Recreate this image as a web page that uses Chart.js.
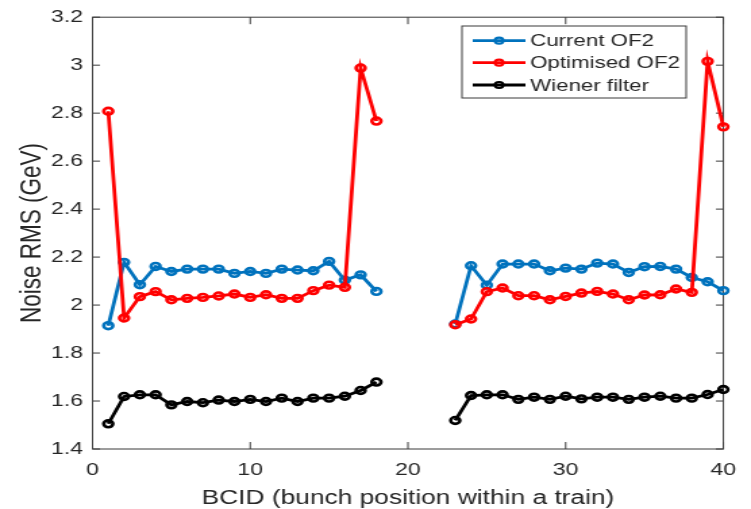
<!DOCTYPE html>
<html>
<head>
<meta charset="utf-8">
<script src="https://cdn.jsdelivr.net/npm/chart.js@4.4.1/dist/chart.umd.min.js"></script>
<style>
  html, body { margin: 0; padding: 0; background: #fff; overflow: hidden; }
  #wrap { width: 556px; height: 509px; transform: scaleX(1.3507); transform-origin: 0 0; }
</style>
</head>
<body>
<div id="wrap"><canvas id="noise-chart" width="556" height="509"></canvas></div>
<script>
// Bunch crossing positions (two trains, gap between 18 and 23)
const bcid = [1, 2, 3, 4, 5, 6, 7, 8, 9, 10, 11, 12, 13, 14, 15, 16, 17, 18,
              23, 24, 25, 26, 27, 28, 29, 30, 31, 32, 33, 34, 35, 36, 37, 38, 39, 40];

const currentOF2 = [1.914, 2.178, 2.085, 2.161, 2.140, 2.150, 2.150, 2.150, 2.132, 2.140, 2.132, 2.150, 2.146, 2.143, 2.182, 2.104, 2.126, 2.057,
                    1.921, 2.164, 2.083, 2.171, 2.171, 2.171, 2.143, 2.154, 2.150, 2.175, 2.171, 2.136, 2.160, 2.161, 2.150, 2.115, 2.097, 2.060];

const optimisedOF2 = [2.808, 1.946, 2.035, 2.056, 2.022, 2.028, 2.032, 2.038, 2.046, 2.032, 2.043, 2.028, 2.028, 2.060, 2.083, 2.074, 2.988, 2.767,
                      1.918, 1.942, 2.056, 2.071, 2.039, 2.039, 2.022, 2.036, 2.050, 2.057, 2.046, 2.022, 2.042, 2.043, 2.067, 2.053, 3.016, 2.743];

const wienerFilter = [1.505, 1.619, 1.626, 1.626, 1.584, 1.598, 1.593, 1.604, 1.598, 1.607, 1.598, 1.612, 1.598, 1.612, 1.612, 1.620, 1.644, 1.679,
                      1.519, 1.623, 1.626, 1.626, 1.607, 1.616, 1.607, 1.620, 1.609, 1.616, 1.616, 1.607, 1.616, 1.620, 1.612, 1.612, 1.627, 1.648];

const seriesNames = ['Current OF2', 'Optimised OF2', 'Wiener filter'];
const seriesColors = ['#0072BD', '#FF0000', '#000000'];

const xTicks = [0, 10, 20, 30, 40];
const yTicks = [1.4, 1.6, 1.8, 2.0, 2.2, 2.4, 2.6, 2.8, 3.0, 3.2];

const TEXT = '#262626';
const AXIS = '#3a3a3a';
const FONT = '"Liberation Sans", Arial, Helvetica, sans-serif';

// break the line wherever the bunch train has a gap
function toPoints(values) {
    const pts = [];
    bcid.forEach((x, i) => {
        if (i > 0 && x - bcid[i - 1] > 1) {
            pts.push({ x: (x + bcid[i - 1]) / 2, y: null });
        }
        pts.push({ x: x, y: values[i] });
    });
    return pts;
}

function makeDataset(idx, values, order) {
    return {
        label: seriesNames[idx],
        data: toPoints(values),
        borderColor: seriesColors[idx],
        backgroundColor: 'rgba(0,0,0,0)',
        pointBorderColor: seriesColors[idx],
        pointBackgroundColor: 'rgba(0,0,0,0)',
        borderWidth: 2.8,
        pointRadius: 3.4,
        pointBorderWidth: 2.6,
        tension: 0,
        spanGaps: false,
        clip: false,
        order: order
    };
}

// axes box, inward ticks, axis titles and legend
const matlabAxes = {
    id: 'matlabAxes',
    beforeDatasetsDraw(chart) {
        const { ctx, chartArea: a, scales } = chart;
        ctx.save();
        ctx.strokeStyle = AXIS;
        ctx.lineWidth = 1;
        ctx.strokeRect(a.left, a.top, a.right - a.left, a.bottom - a.top);
        ctx.beginPath();
        xTicks.forEach(v => {
            const px = scales.x.getPixelForValue(v);
            ctx.moveTo(px, a.bottom); ctx.lineTo(px, a.bottom - 7);
            ctx.moveTo(px, a.top); ctx.lineTo(px, a.top + 7);
        });
        yTicks.forEach(v => {
            const py = scales.y.getPixelForValue(v);
            ctx.moveTo(a.left, py); ctx.lineTo(a.left + 5.5, py);
            ctx.moveTo(a.right, py); ctx.lineTo(a.right - 5.5, py);
        });
        ctx.stroke();

        // axis titles
        ctx.fillStyle = TEXT;
        ctx.font = '19.5px ' + FONT;
        ctx.textAlign = 'center';
        ctx.textBaseline = 'middle';
        ctx.fillText('BCID (bunch position within a train)', (a.left + a.right) / 2, 499);
        ctx.font = '22.5px ' + FONT;
        ctx.translate(24, (a.top + a.bottom) / 2);
        ctx.rotate(-Math.PI / 2);
        ctx.fillText('Noise RMS (GeV)', 0, 0);
        ctx.restore();
    },
    afterDraw(chart) {
        const ctx = chart.ctx;
        const box = { x: 342, y: 26, w: 166, h: 72 };
        const rows = [40.7, 62.7, 85];
        ctx.save();
        ctx.fillStyle = '#fff';
        ctx.fillRect(box.x, box.y, box.w, box.h);
        ctx.strokeStyle = AXIS;
        ctx.lineWidth = 1;
        ctx.strokeRect(box.x, box.y, box.w, box.h);
        ctx.font = '16.5px ' + FONT;
        ctx.textAlign = 'left';
        ctx.textBaseline = 'middle';
        seriesNames.forEach((name, i) => {
            const y = rows[i];
            ctx.strokeStyle = seriesColors[i];
            ctx.lineWidth = 2.8;
            ctx.beginPath();
            ctx.moveTo(350, y); ctx.lineTo(389, y);
            ctx.stroke();
            ctx.lineWidth = 2.2;
            ctx.beginPath();
            ctx.arc(369.5, y, 3, 0, Math.PI * 2);
            ctx.stroke();
            ctx.fillStyle = TEXT;
            ctx.fillText(name, 392.5, y + 1);
        });
        ctx.restore();
    }
};

const ctx = document.getElementById('noise-chart');
new Chart(ctx, {
    type: 'line',
    data: {
        datasets: [
            makeDataset(0, currentOF2, 3),
            makeDataset(1, optimisedOF2, 2),
            makeDataset(2, wienerFilter, 1)
        ]
    },
    options: {
        responsive: false,
        maintainAspectRatio: false,
        devicePixelRatio: 1,
        animation: false,
        layout: { padding: { top: 16.5, right: 15, left: 0, bottom: 0 } },
        plugins: {
            legend: { display: false },
            tooltip: { enabled: false },
            title: { display: false }
        },
        scales: {
            x: {
                type: 'linear',
                min: 0,
                max: 40,
                afterFit: (scale) => { scale.height = 60; },
                afterBuildTicks: (scale) => { scale.ticks = xTicks.map(v => ({ value: v })); },
                grid: { display: false, drawTicks: false },
                border: { display: false },
                ticks: {
                    padding: 11,
                    color: TEXT,
                    font: { family: FONT, size: 17 },
                    maxRotation: 0,
                    callback: (v) => String(v)
                }
            },
            y: {
                type: 'linear',
                min: 1.4,
                max: 3.2,
                afterFit: (scale) => { scale.width = 68.5; },
                afterBuildTicks: (scale) => { scale.ticks = yTicks.map(v => ({ value: v })); },
                grid: { display: false, drawTicks: false },
                border: { display: false },
                ticks: {
                    padding: 7,
                    color: TEXT,
                    font: { family: FONT, size: 17 },
                    callback: (v) => String(Math.round(v * 10) / 10)
                }
            }
        }
    },
    plugins: [matlabAxes]
});
</script>
</body>
</html>
